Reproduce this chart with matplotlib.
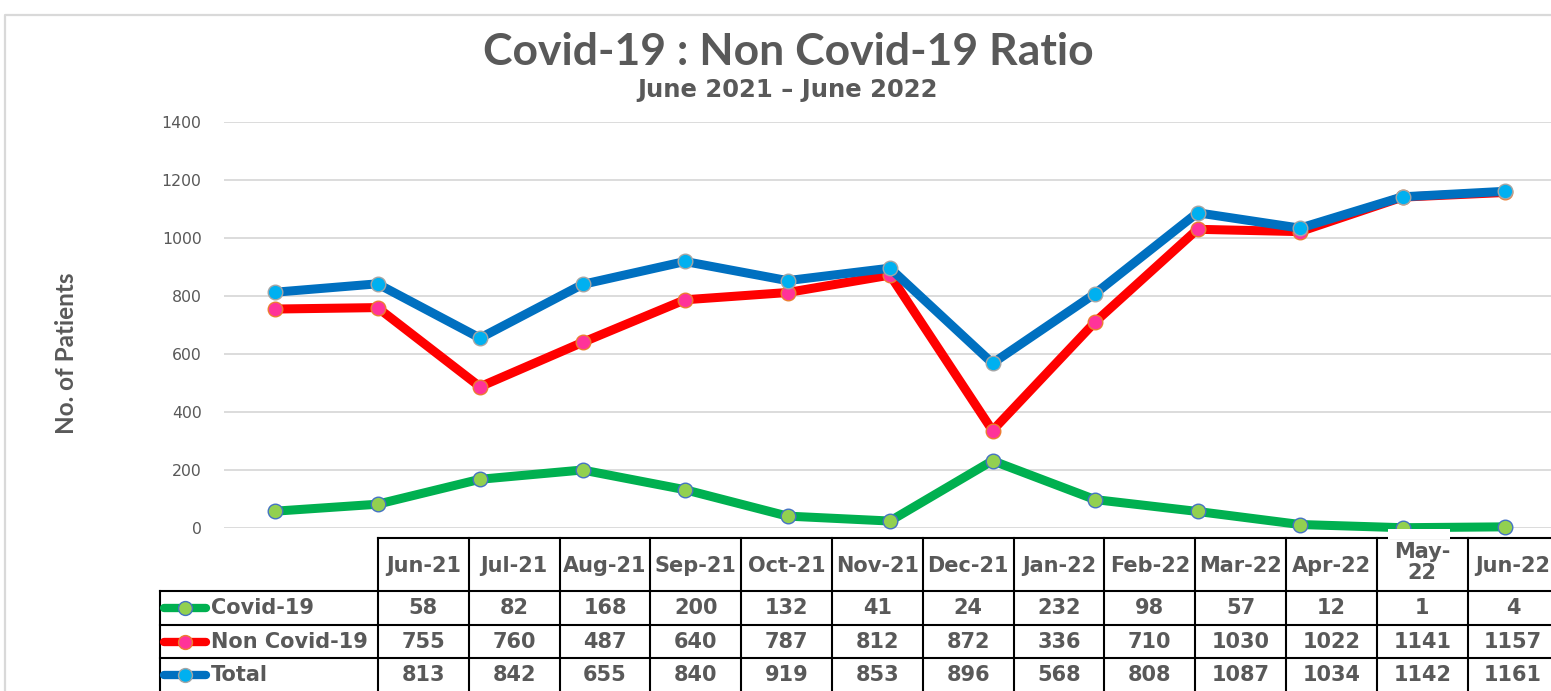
import matplotlib
matplotlib.use("Agg")
import matplotlib.pyplot as plt
import numpy as np

# ---------------- data ----------------
months = ["Jun-21", "Jul-21", "Aug-21", "Sep-21", "Oct-21", "Nov-21", "Dec-21",
          "Jan-22", "Feb-22", "Mar-22", "Apr-22", "May-22", "Jun-22"]
header_labels = ["Jun-21", "Jul-21", "Aug-21", "Sep-21", "Oct-21", "Nov-21", "Dec-21",
                 "Jan-22", "Feb-22", "Mar-22", "Apr-22", "May-\n22", "Jun-22"]
covid = [58, 82, 168, 200, 132, 41, 24, 232, 98, 57, 12, 1, 4]
non_covid = [755, 760, 487, 640, 787, 812, 872, 336, 710, 1030, 1022, 1141, 1157]
total = [813, 842, 655, 840, 919, 853, 896, 568, 808, 1087, 1034, 1142, 1161]
series_names = ["Covid-19", "Non Covid-19", "Total"]
yticks = [0, 200, 400, 600, 800, 1000, 1200, 1400]

title = "Covid-19 : Non Covid-19 Ratio"
subtitle = "June 2021 \u2013 June 2022"
ylabel = "No. of Patients"

# ---------------- styles ----------------
line_colors = ["#00B050", "#FF0000", "#0070C0"]
marker_faces = ["#92D050", "#FF3399", "#00B0F0"]
marker_edges = ["#4472C4", "#ED7D31", "#A5A5A5"]
TXT = "#595959"

W, H = 1551, 691
fig = plt.figure(figsize=(W / 100, H / 100), dpi=100)

# main plot axes (pixel-based layout)
ax_left, ax_right = 223.75, 223.75 + 13 * 102.5
ax_top, ax_bottom = 122, 528
ax = fig.add_axes([ax_left / W, 1 - ax_bottom / H,
                   (ax_right - ax_left) / W, (ax_bottom - ax_top) / H])
x = np.arange(len(months))
for vals, lc, mf, me in zip([covid, non_covid, total], line_colors, marker_faces, marker_edges):
    ax.plot(x, vals, color=lc, lw=6.5, marker="o", ms=10.5, mfc=mf, mec=me, mew=1.0,
            clip_on=False, solid_capstyle="round", zorder=3)
ax.set_xlim(-0.5, len(months) - 0.5)
ax.set_ylim(0, 1400)
ax.set_yticks(yticks)
ax.set_yticklabels([str(v) for v in yticks], fontsize=11.3, color=TXT, family="DejaVu Sans")
ax.set_xticks([])
ax.tick_params(axis="y", length=0, pad=16)
ax.grid(axis="y", color="#D9D9D9", lw=1.3)
ax.set_axisbelow(True)
for s in ax.spines.values():
    s.set_visible(False)

# overlay for texts, frame and table
ov = fig.add_axes([0, 0, 1, 1])
ov.set_xlim(0, W)
ov.set_ylim(H, 0)
ov.axis("off")
ov.patch.set_alpha(0)

# outer frame (left and top)
ov.plot([5, 5, W], [H, 15, 15], color="#D9D9D9", lw=1.6)

ov.text(788, 52, title, ha="center", va="center", fontsize=32, fontweight="bold",
        color=TXT, family=["Lato", "DejaVu Sans"])
ov.text(788, 90, subtitle, ha="center", va="center", fontsize=17.5, fontweight="bold",
        color=TXT, family=["DejaVu Sans"])
ov.text(67, 353, ylabel, ha="center", va="center", rotation=90, fontsize=17.5,
        fontweight="bold", color=TXT, family=["Liberation Sans Narrow", "Lato", "DejaVu Sans"])

# table
L0, C0 = 160, 378
CW = 90.8
head_top, head_bot = 538, 591
row_bounds = [591, 625, 658, 692]
n = len(months)
right = C0 + n * CW
lc_tab = "#000000"
lw_tab = 1.5
ov.plot([C0, right], [head_top, head_top], color=lc_tab, lw=lw_tab)
for yb in row_bounds[:-1]:
    ov.plot([L0, right], [yb, yb], color=lc_tab, lw=lw_tab)
ov.plot([L0, L0], [row_bounds[0], H + 2], color=lc_tab, lw=lw_tab)
for j in range(n + 1):
    ov.plot([C0 + j * CW, C0 + j * CW], [head_top, H + 2], color=lc_tab, lw=lw_tab)

tfont = dict(fontsize=15, fontweight="bold", color=TXT, family="DejaVu Sans")
for j, lab in enumerate(header_labels):
    yh = (head_top + head_bot) / 2 + 1
    if "\n" in lab:
        yh -= 3
    ov.text(C0 + (j + 0.5) * CW, yh, lab, ha="center",
            va="center", linespacing=1.05, **tfont)

for i, (name, vals) in enumerate(zip(series_names, [covid, non_covid, total])):
    yc = (row_bounds[i] + row_bounds[i + 1]) / 2
    ov.plot([164, 206], [yc, yc], color=line_colors[i], lw=6, solid_capstyle="round")
    ov.plot([185], [yc], marker="o", ms=10, mfc=marker_faces[i], mec=marker_edges[i], mew=1.0)
    ov.text(211, yc, name, ha="left", va="center", **tfont)
    for j, v in enumerate(vals):
        ov.text(C0 + (j + 0.5) * CW, yc, str(v), ha="center", va="center", **tfont)

# white patch over top of the wrapped May-22 header
ov.add_patch(plt.Rectangle((1388, 529), 62, 10, facecolor="white", edgecolor="none", zorder=5))

fig.savefig("out.png", dpi=100, facecolor="white")
